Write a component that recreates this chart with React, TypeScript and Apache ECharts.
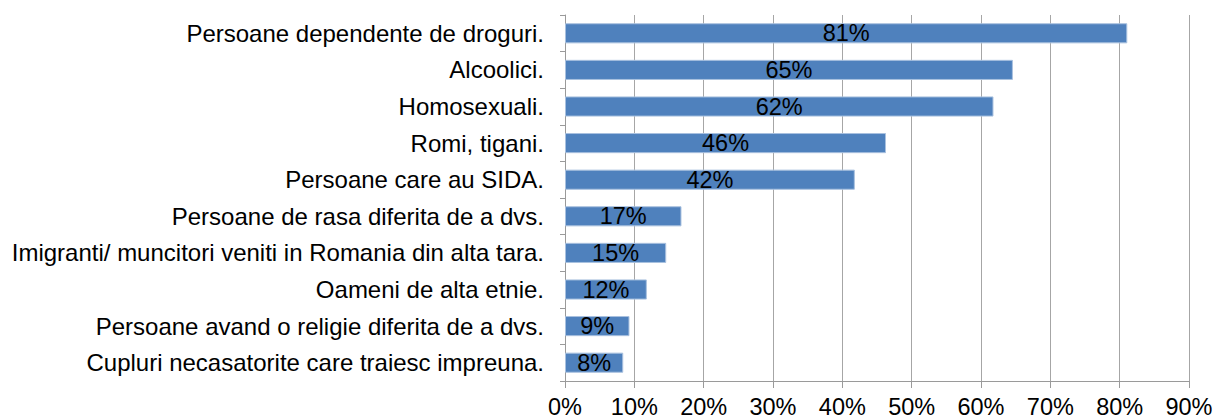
import React, { useEffect, useRef } from "react";
import * as echarts from "echarts";

const categories = [
  "Persoane dependente de droguri.",
  "Alcoolici.",
  "Homosexuali.",
  "Romi, tigani.",
  "Persoane care au SIDA.",
  "Persoane de rasa diferita de a dvs.",
  "Imigranti/ muncitori veniti in Romania din alta tara.",
  "Oameni de alta etnie.",
  "Persoane avand o religie diferita de a dvs.",
  "Cupluri necasatorite care traiesc impreuna.",
];
const values = [81.1, 64.6, 61.8, 46.3, 41.8, 16.8, 14.6, 11.8, 9.3, 8.4];
const xTicks = [0, 10, 20, 30, 40, 50, 60, 70, 80, 90];

export default function App() {
  const ref = useRef<HTMLDivElement>(null);
  useEffect(() => {
    if (!ref.current) return;
    const chart = echarts.init(ref.current, undefined, { renderer: "svg" });
    const font = "'Liberation Sans', Arial, sans-serif";
    const fs = 23.5;
    chart.setOption({
      animation: false,
      textStyle: { fontFamily: font },
      grid: { left: 565, right: 33, top: 15, bottom: 38, containLabel: false },
      xAxis: {
        type: "value",
        min: xTicks[0],
        max: xTicks[xTicks.length - 1],
        interval: 10,
        axisLine: { show: true, lineStyle: { color: "#9a9a9a", width: 1 } },
        axisTick: { show: true, length: 7, lineStyle: { color: "#9a9a9a" } },
        splitLine: { show: true, lineStyle: { color: "#a6a6a6", width: 1 } },
        axisLabel: {
          formatter: (v: number) => v + "%",
          color: "#000",
          fontSize: fs,
          fontFamily: font,
          margin: 14,
        },
      },
      yAxis: {
        type: "category",
        data: categories,
        inverse: true,
        axisLine: { show: true, lineStyle: { color: "#9a9a9a", width: 1 } },
        axisTick: { show: true, length: 5, lineStyle: { color: "#9a9a9a" } },
        axisLabel: {
          color: "#000",
          fontSize: 24,
          fontFamily: font,
          margin: 21,
        },
      },
      series: [
        {
          type: "bar",
          data: values,
          barCategoryGap: "45%",
          itemStyle: { color: "#4F81BD", borderColor: "#A9C1DF", borderWidth: 1 },
          label: {
            show: true,
            position: "inside",
            formatter: (p: any) => Math.round(p.value) + "%",
            color: "#000",
            fontSize: fs,
            fontFamily: font,
          },
        },
      ],
    });
    return () => chart.dispose();
  }, []);
  return <div ref={ref} style={{ width: 1222, height: 419, position: "absolute", left: 0, top: 0 }} />;
}
